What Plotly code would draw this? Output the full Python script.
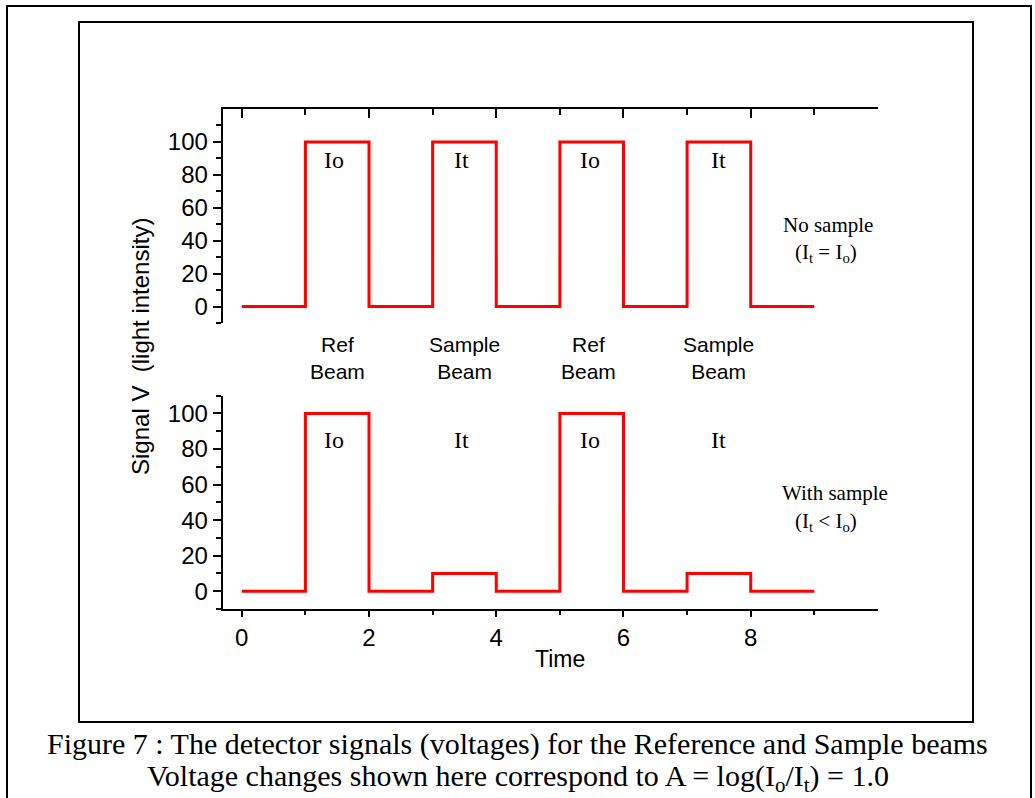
import plotly.graph_objects as go

# ---- data ----
time_edges = [0, 1, 2, 3, 4, 5, 6, 7, 8, 9]
signal_no_sample = [0, 100, 0, 100, 0, 100, 0, 100, 0]
signal_with_sample = [0, 100, 0, 10, 0, 100, 0, 10, 0]
pulse_centers = [1.45, 3.45, 5.47, 7.5]
pulse_labels = ["Io", "It", "Io", "It"]
pulse_labels_lower = ["Io", "It", "Io", "It"]
beam_centers = [1.5, 3.5, 5.45, 7.5]
beam_labels = ["Ref<br>Beam", "Sample<br>Beam", "Ref<br>Beam", "Sample<br>Beam"]
x_major_ticks = [0, 2, 4, 6, 8]
x_minor_ticks = [1, 3, 5, 7, 9]
y_major_ticks = [0, 20, 40, 60, 80, 100]
y_minor_ticks = [-10, 10, 30, 50, 70, 90, 110]
caption_lines = [
    "Figure 7 : The detector signals (voltages) for the Reference and Sample beams",
    "Voltage changes shown here correspond to A = log(I<sub>o</sub>/I<sub>t</sub>) = 1.0",
]

W, H = 1035, 798
def px(x):
    return x / W
def py(y):
    return 1 - y / H

RED = "#FF0000"
SANS = "Liberation Sans, Arial, sans-serif"
SERIF = "Liberation Serif, Times New Roman, serif"

fig = go.Figure()
fig.add_trace(go.Scatter(
    x=time_edges, y=signal_no_sample + [signal_no_sample[-1]],
    mode="lines", line=dict(color=RED, width=3, shape="hv"),
    xaxis="x", yaxis="y", showlegend=False, hoverinfo="skip"))
fig.add_trace(go.Scatter(
    x=time_edges, y=signal_with_sample + [signal_with_sample[-1]],
    mode="lines", line=dict(color=RED, width=3, shape="hv"),
    xaxis="x2", yaxis="y2", showlegend=False, hoverinfo="skip"))

xdom = [px(222.7), px(878)]
tickfont = dict(family=SANS, size=24, color="black")

def yaxis_common(dom, anchor, rng):
    return dict(
        domain=dom, anchor=anchor, range=rng,
        showline=True, linecolor="black", linewidth=2, mirror=False,
        showgrid=False, zeroline=False,
        tickmode="array", tickvals=y_major_ticks,
        ticktext=[str(v) for v in y_major_ticks],
        ticks="outside", ticklen=8, tickwidth=1.5, tickcolor="black",
        tickfont=tickfont,
        minor=dict(tickmode="array", tickvals=y_minor_ticks, ticks="outside",
                   ticklen=5, tickwidth=1.5, tickcolor="black", showgrid=False),
    )

fig.update_layout(
    width=W, height=H,
    margin=dict(l=0, r=0, t=0, b=0, autoexpand=False),
    paper_bgcolor="white", plot_bgcolor="white",
    showlegend=False,
    xaxis=dict(
        domain=xdom, anchor="y", side="top", range=[-0.3, 10.001],
        showline=True, linecolor="black", linewidth=2, mirror=False,
        showgrid=False, zeroline=False,
        tickmode="linear", tick0=0, dtick=2,
        ticks="inside", ticklen=9, tickwidth=1.5, tickcolor="black",
        showticklabels=False,
        minor=dict(tickmode="linear", tick0=1, dtick=2, ticks="inside",
                   ticklen=6, tickwidth=1.5, tickcolor="black", showgrid=False),
    ),
    yaxis=yaxis_common([py(323), py(109)], "x", [-10, 120]),
    xaxis2=dict(
        domain=xdom, anchor="y2", side="bottom", range=[-0.3, 10.001],
        showline=True, linecolor="black", linewidth=2, mirror=False,
        showgrid=False, zeroline=False,
        tickmode="array", tickvals=x_major_ticks,
        ticktext=[str(v) for v in x_major_ticks],
        ticks="outside", ticklen=6, tickwidth=1.5, tickcolor="black",
        tickfont=tickfont,
        minor=dict(tickmode="array", tickvals=x_minor_ticks, ticks="outside",
                   ticklen=4, tickwidth=1.5, tickcolor="black", showgrid=False),
    ),
    yaxis2=yaxis_common([py(609), py(395.7)], "x2", [-10, 110]),
)

def ann(x, y, text, font, xref="paper", yref="paper", **kw):
    d = dict(x=x, y=y, xref=xref, yref=yref, text=text, showarrow=False,
             xanchor="center", yanchor="middle", font=font)
    d.update(kw)
    return d

serif_big = dict(family=SERIF, size=24, color="black")
serif_small = dict(family=SERIF, size=21, color="black")
sans_lab = dict(family=SANS, size=21, color="black")
caption_font = dict(family=SERIF, size=30, color="black")

annotations = []
for xc, lab in zip(pulse_centers, pulse_labels):
    annotations.append(ann(xc, 89, lab, serif_big, xref="x", yref="y"))
for xc, lab in zip(pulse_centers, pulse_labels_lower):
    annotations.append(ann(xc, 85, lab, serif_big, xref="x2", yref="y2"))
for xc, lab in zip(beam_centers, beam_labels):
    annotations.append(ann(xc, py(357.5), lab, sans_lab, xref="x", yref="paper"))

annotations += [
    ann(px(828), py(225), "No sample", serif_small),
    ann(px(826), py(253), "(I<sub>t</sub> = I<sub>o</sub>)", serif_small),
    ann(px(835), py(493), "With sample", serif_small),
    ann(px(826), py(522), "(I<sub>t</sub> &lt; I<sub>o</sub>)", serif_small),
    ann(px(140), py(347), "Signal V\u00a0 (light intensity)",
        dict(family=SANS, size=24, color="black"), textangle=-90),
    ann(5, py(659), "Time", dict(family=SANS, size=23, color="black"), xref="x2"),
    ann(0.5, py(744), caption_lines[0], caption_font),
    ann(0.5, py(778), caption_lines[1], caption_font),
]
fig.update_layout(annotations=annotations)

fig.update_layout(shapes=[
    dict(type="rect", xref="paper", yref="paper",
         x0=px(7), x1=px(1031), y0=-0.02, y1=py(6),
         line=dict(color="black", width=2), fillcolor="rgba(0,0,0,0)", layer="below"),
    dict(type="rect", xref="paper", yref="paper",
         x0=px(79), x1=px(973), y0=py(722), y1=py(22),
         line=dict(color="black", width=2), fillcolor="rgba(0,0,0,0)", layer="below"),
])

fig.write_html(
    "out.html",
    config={"displayModeBar": False},
    post_script="document.body.style.margin='0';document.body.style.overflow='hidden';"
                "document.documentElement.style.overflow='hidden';",
)
